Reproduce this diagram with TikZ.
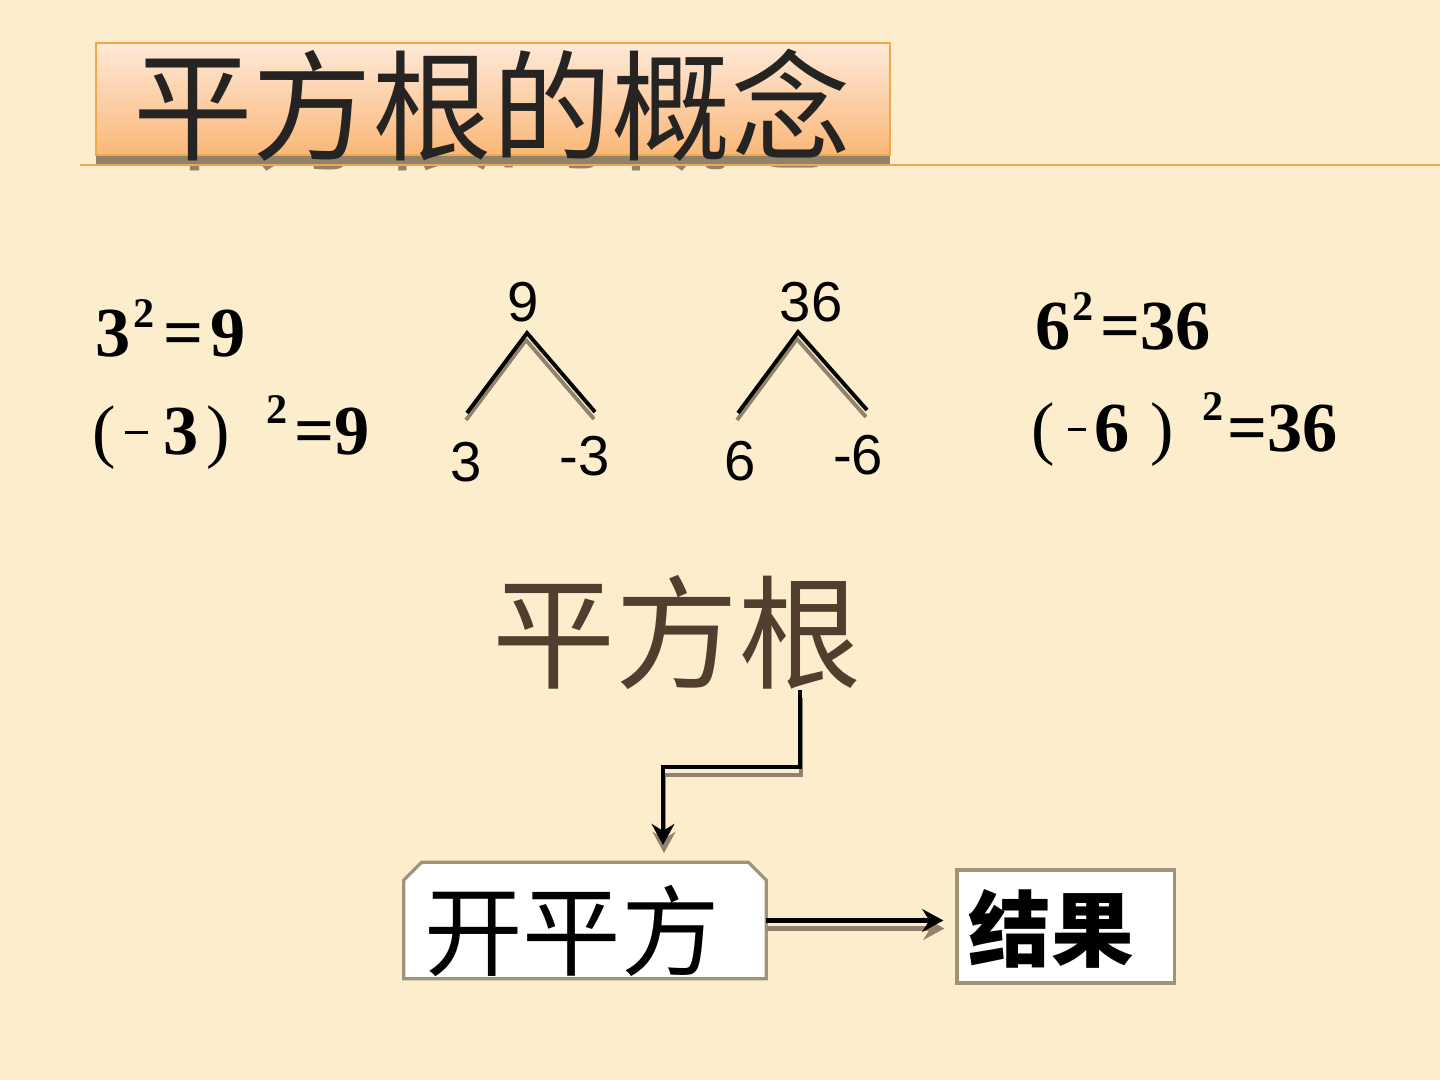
\documentclass[tikz,border=0pt]{standalone}
\usepackage{fontspec}
\setmainfont{Liberation Serif}
\newfontfamily\arialfont{Liberation Sans}
\newfontfamily\cjk{Noto Sans CJK SC}
\usetikzlibrary{arrows.meta}
\definecolor{bgcream}{RGB}{252,238,204}
\definecolor{titletop}{RGB}{254,233,216}
\definecolor{titlebot}{RGB}{250,183,120}
\definecolor{titleedge}{RGB}{238,170,72}
\definecolor{shadowgray}{RGB}{146,130,108}
\definecolor{boxedge}{RGB}{160,148,118}
\definecolor{rootbrown}{RGB}{80,62,46}
\definecolor{titleink}{RGB}{38,36,34}

\begin{document}
\begin{tikzpicture}[x=0.01cm,y=-0.01cm,
    titletext/.style={inner sep=0, font=\cjk\fontsize{34}{34}\selectfont},
    eqn/.style={anchor=base west, inner sep=0, font=\fontsize{20}{20}\selectfont\bfseries},
    num/.style={anchor=base, inner sep=0, font=\arialfont\fontsize{16}{16}\selectfont},
    leg/.style={line width=1.1pt},
    legshadow/.style={line width=1.1pt, draw=shadowgray, transform canvas={shift={(-1,7)}}},
    flow/.style={line width=1.4pt, -{Stealth[length=6pt,width=6.5pt,inset=2pt]}},
    flowshadow/.style={flow, draw=shadowgray, transform canvas={shift={(1,8)}}},
    boxline/.style={draw=boxedge, line width=0.9pt, fill=white}]
  \fill[bgcream] (0,0) rectangle (1440,1080);
  \useasboundingbox (0,0) rectangle (1440,1080);

  \node[titletext, text=shadowgray] (titleshade) at (494,115) {平方根的概念};
  \fill[shadowgray] (96,53) rectangle (890,165);
  \shade[top color=titletop, bottom color=titlebot] (96,43) rectangle (890,155);
  \draw[titleedge, line width=0.4pt] (96,43) rectangle (890,155);
  \draw[titleedge, line width=0.5pt] (80,165) -- (1440,165);
  \node[titletext, text=titleink] (title) at (492,105) {平方根的概念};

  \node[eqn] (sqa) at (95,357) {3\hspace{0.04em}\raisebox{0.42em}{\fontsize{12}{12}\selectfont 2}\hspace{0.12em}=\hspace{0.1em}9};
  \node[eqn] (sqb) at (92,455) {\mdseries(\hspace{0.12em}\rule[0.3em]{0.34em}{0.04em}\hspace{0.22em}\bfseries 3\hspace{0.1em}\mdseries)\hspace{0.52em}\bfseries\raisebox{0.45em}{\fontsize{12}{12}\selectfont 2}\hspace{0.1em}=9};
  \node[eqn] (sqc) at (1035,350) {6\hspace{0.02em}\raisebox{0.42em}{\fontsize{12}{12}\selectfont 2}\hspace{0.1em}=36};
  \node[eqn] (sqd) at (1031,452) {\mdseries(\hspace{0.18em}\rule[0.3em]{0.26em}{0.04em}\hspace{0.12em}\bfseries 6\hspace{0.3em}\mdseries)\hspace{0.4em}\bfseries\raisebox{0.45em}{\fontsize{12}{12}\selectfont 2}\hspace{0.06em}=36};

  \node[num] (t9) at (523,322) {9};
  \node[num] (l3) at (466,482) {3};
  \node[num] (lm3) at (585,476) {-3};
  \node[num] (t36) at (811,322) {36};
  \node[num] (l6) at (740,481) {6};
  \node[num] (lm6) at (858,475) {-6};
  \coordinate (a9) at (527,333);
  \coordinate (a9l) at (467,413);
  \coordinate (a9r) at (595,412);
  \coordinate (a36) at (798,332);
  \coordinate (a36l) at (738,413);
  \coordinate (a36r) at (867,410);
  \draw[legshadow] (a9l) -- (a9) -- (a9r);
  \draw[legshadow] (a36l) -- (a36) -- (a36r);
  \draw[leg] (a9l) -- (a9) -- (a9r);
  \draw[leg] (a36l) -- (a36) -- (a36r);

  \node[inner sep=0, font=\cjk\fontsize{35}{35}\selectfont, text=rootbrown] (root) at (677,632) {平方根};

  \node[minimum width=3.61cm, minimum height=1.15cm] (kpf) at (585,920.5) {};
  \filldraw[boxline] (kpf.south west) -- ([shift={(0,18)}]kpf.north west) -- ([shift={(18,0)}]kpf.north west)
    -- ([shift={(-18,0)}]kpf.north east) -- ([shift={(0,18)}]kpf.north east) -- (kpf.south east) -- cycle;
  \node[inner sep=0, font=\cjk\fontsize{28}{28}\selectfont] (kpftext) at (572,931) {开平方};
  \node[boxline, minimum width=2.17cm, minimum height=1.13cm] (res) at (1065.5,926.5) {};
  \node[inner sep=0, font=\cjk\bfseries\fontsize{23.5}{23.5}\selectfont] (restext) at (1051,929) {结果};

  \coordinate (p0) at (800,690);
  \coordinate (p1) at (663,767);
  \coordinate (p2) at (663,845);
  \draw[flowshadow] (p0) |- (p1) -- (p2);
  \draw[flow] (p0) |- (p1) -- (p2);
  \draw[flowshadow, shorten >=0.12cm] (kpf.east) -- (kpf.east -| res.west);
  \draw[flow, shorten >=0.12cm] (kpf.east) -- (kpf.east -| res.west);
\end{tikzpicture}
\end{document}
